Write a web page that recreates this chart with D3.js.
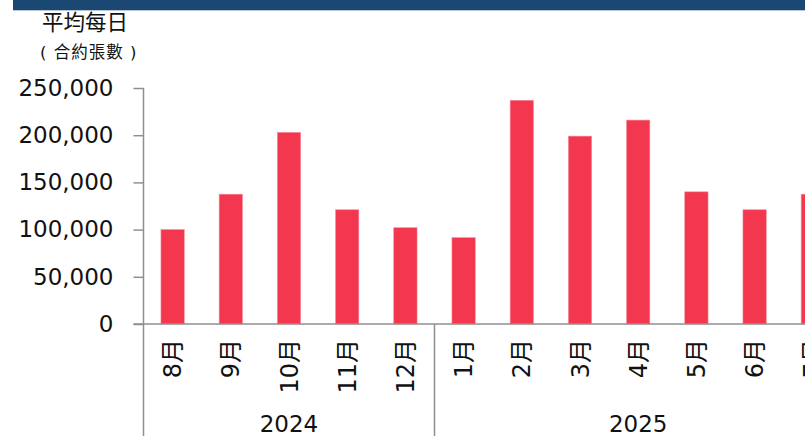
<!DOCTYPE html>
<html>
<head>
<meta charset="utf-8">
<script src="https://cdn.jsdelivr.net/npm/d3@7"></script>
<style>
  body { margin: 0; background: #fff; }
  #chart-area { width: 805px; height: 436px; overflow: hidden; }
  text { font-family: "DejaVu Sans", "Noto Sans CJK TC", sans-serif; fill: #111; }
</style>
</head>
<body>
<div id="chart-area"></div>
<script>
// data
var months = ["8月", "9月", "10月", "11月", "12月", "1月", "2月", "3月", "4月", "5月", "6月", "7月"];
var volumes = [100000, 137500, 203000, 121000, 102000, 91500, 237000, 199000, 216000, 140000, 121000, 137500];
var years = ["2024", "2025"];
var monthsPerYear = [5, 7];
var yTicks = [0, 50000, 100000, 150000, 200000, 250000];

MonthlyVolumeChart = function(_parentElement){
    this.parentElement = _parentElement;
    this.data = months.map(function(m, i) { return {Month: m, Volume: volumes[i]}; });
    this.initVis();
}

MonthlyVolumeChart.prototype.initVis = function(){
    var vis = this;

    vis.svg = d3.select("#" + vis.parentElement)
        .append("svg")
        .attr("width", 805)
        .attr("height", 436);

    // header band
    vis.svg.append("rect")
        .attr("x", 13).attr("y", 0)
        .attr("width", 800).attr("height", 10)
        .style("fill", "#1b4872");
    vis.svg.append("line")
        .attr("x1", 13).attr("x2", 805)
        .attr("y1", 10.5).attr("y2", 10.5)
        .style("stroke", "#b7c6d6");

    // plot spans past the right edge, the last month is cut off like the original
    vis.left = 143.5;
    vis.step = 58.2;
    vis.x = d3.scaleBand()
        .domain(months)
        .range([vis.left, vis.left + vis.step * months.length])
        .paddingInner(0.6)
        .paddingOuter(0.3);

    vis.y = d3.scaleLinear()
        .domain([0, 250000])
        .range([324, 88]);

    // titles
    vis.svg.append("text")
        .attr("x", 42).attr("y", 30)
        .style("font-size", "21.5px")
        .text("平均每日");
    vis.svg.append("text")
        .attr("x", 40).attr("y", 58)
        .style("font-size", "16.5px")
        .style("letter-spacing", "1px")
        .text("( 合約張數 )");

    vis.updateVis();
}

MonthlyVolumeChart.prototype.updateVis = function(){
    var vis = this;
    var axisColor = "#8f8f8f";

    // y axis
    vis.yAxis = d3.axisLeft(vis.y)
        .tickValues(yTicks)
        .tickSize(10)
        .tickPadding(20)
        .tickFormat(d3.format(","));

    var yg = vis.svg.append("g")
        .attr("class", "axis y-axis")
        .attr("transform", "translate(" + vis.left + ",0)")
        .call(vis.yAxis);
    yg.select(".domain").remove();
    yg.selectAll("line").style("stroke", axisColor).style("stroke-width", 1.5);
    yg.selectAll("text")
        .style("font-size", "23px")
        .style("font-family", "\"DejaVu Sans\", sans-serif")
        .style("fill", "#111");

    vis.svg.append("line")
        .attr("x1", vis.left).attr("x2", vis.left)
        .attr("y1", vis.y(250000)).attr("y2", 436)
        .style("stroke", axisColor).style("stroke-width", 1.5);

    // bars
    vis.svg.selectAll("rect.bar")
        .data(vis.data)
        .enter()
        .append("rect")
        .attr("class", "bar")
        .attr("x", function(d) { return vis.x(d.Month); })
        .attr("y", function(d) { return vis.y(d.Volume); })
        .attr("width", vis.x.bandwidth())
        .attr("height", function(d) { return vis.y(0) - vis.y(d.Volume); })
        .style("fill", "#f2374f")
        .style("stroke", "#f88a98")
        .style("stroke-width", 0.6);

    // x baseline
    vis.svg.append("line")
        .attr("x1", vis.left - 10).attr("x2", vis.left + vis.step * months.length)
        .attr("y1", vis.y(0)).attr("y2", vis.y(0))
        .style("stroke", axisColor).style("stroke-width", 1.5);

    // month labels, rotated
    vis.svg.selectAll("text.month")
        .data(months)
        .enter()
        .append("text")
        .attr("class", "month")
        .attr("transform", function(d) {
            return "translate(" + (vis.x(d) + vis.x.bandwidth() / 2) + ",339) rotate(-90)";
        })
        .attr("dy", "0.36em")
        .style("text-anchor", "end")
        .style("font-size", "24px")
        .text(function(d) { return d; });

    // year groups
    var start = 0;
    var groups = years.map(function(yr, i) {
        var g = {Year: yr, x0: vis.left + start * vis.step, x1: vis.left + (start + monthsPerYear[i]) * vis.step};
        start += monthsPerYear[i];
        return g;
    });

    vis.svg.selectAll("line.sep")
        .data(groups)
        .enter()
        .append("line")
        .attr("class", "sep")
        .attr("x1", function(d) { return d.x1; })
        .attr("x2", function(d) { return d.x1; })
        .attr("y1", vis.y(0)).attr("y2", 436)
        .style("stroke", axisColor).style("stroke-width", 1.5);

    vis.svg.selectAll("text.year")
        .data(groups)
        .enter()
        .append("text")
        .attr("class", "year")
        .attr("x", function(d) { return (d.x0 + d.x1) / 2; })
        .attr("y", 432)
        .style("text-anchor", "middle")
        .style("font-size", "23px")
        .text(function(d) { return d.Year; });
}

var chart = new MonthlyVolumeChart("chart-area");
</script>
</body>
</html>
